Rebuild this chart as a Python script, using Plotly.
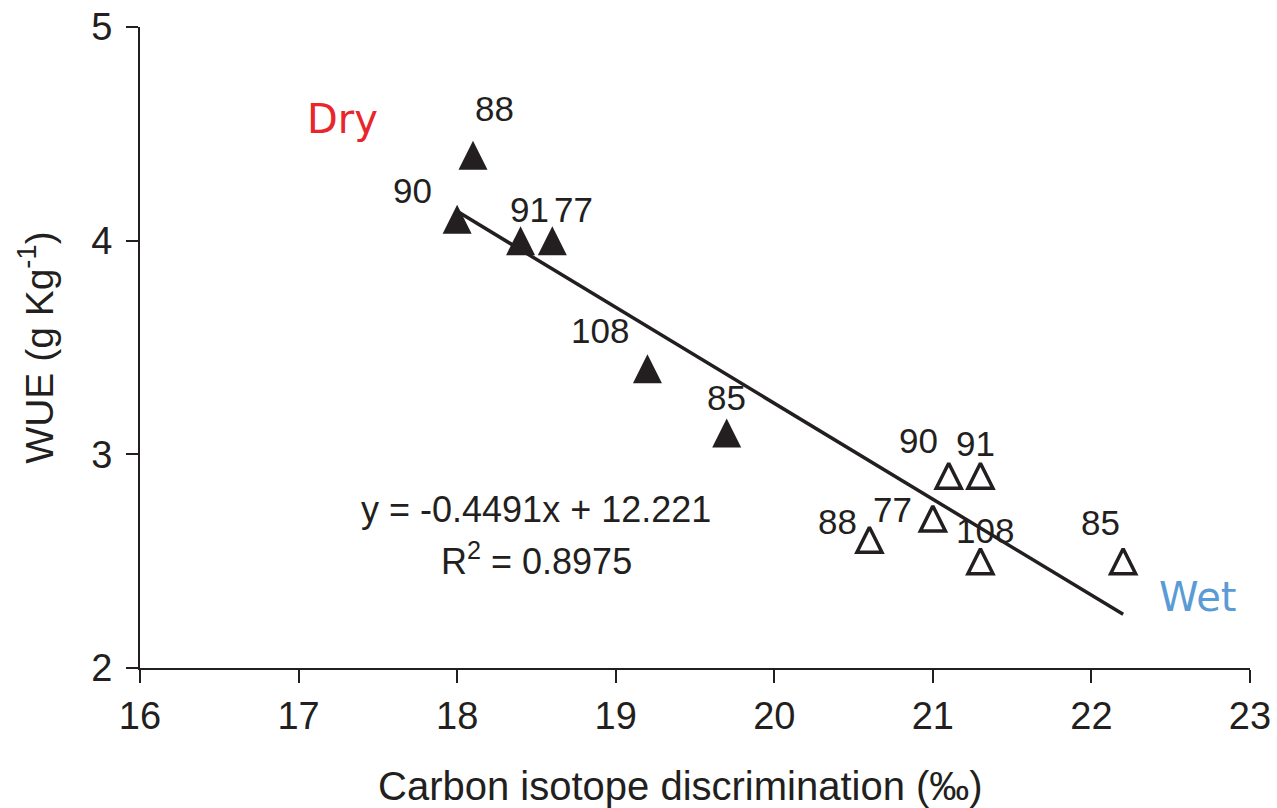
import plotly.graph_objects as go

# ---- data ----
dry_x = [18.1, 18.0, 18.4, 18.6, 19.2, 19.7]
dry_y = [4.4, 4.1, 4.0, 4.0, 3.4, 3.1]
dry_labels = ["88", "90", "91", "77", "108", "85"]

wet_x = [21.1, 21.3, 21.0, 20.6, 21.3, 22.2]
wet_y = [2.9, 2.9, 2.7, 2.6, 2.5, 2.5]
wet_labels = ["90", "91", "77", "88", "108", "85"]

slope = -0.4491
intercept = 12.221
r2 = 0.8975

x_ticks = [16, 17, 18, 19, 20, 21, 22, 23]
y_ticks = [2, 3, 4, 5]

x_title = "Carbon isotope discrimination (‰)"
y_title = "WUE (g Kg<sup>-1</sup>)"

# ---- label offsets (pixels) ----
dry_off = [(21, 47), (-45, 29), (9, 31), (21, 31), (-47, 38), (0, 35)]
wet_off = [(-30, 35), (-5, 32), (-40, 9), (-32, 18), (5, 31), (-23, 39)]

INK = "#231f20"
FONT = "Liberation Sans, Arial, Helvetica, sans-serif"
FONT2 = "DejaVu Sans, Verdana, sans-serif"
MS = 29

fig = go.Figure()

# regression line across the data range
all_x = dry_x + wet_x
x0, x1 = min(all_x), max(all_x)
fig.add_trace(go.Scatter(
    x=[x0, x1], y=[slope * x0 + intercept, slope * x1 + intercept],
    mode="lines", line=dict(color=INK, width=3.5), showlegend=False, hoverinfo="skip"))

fig.add_trace(go.Scatter(
    x=dry_x, y=dry_y, mode="markers", showlegend=False,
    marker=dict(symbol="arrow-down", angle=180, standoff=MS / 2, size=MS,
                color=INK, line=dict(width=0))))

fig.add_trace(go.Scatter(
    x=wet_x, y=wet_y, mode="markers", showlegend=False,
    marker=dict(symbol="arrow-down-open", angle=180, standoff=25 / 2, size=25,
                color=INK, line=dict(width=3.5, color=INK))))

ann = []
for xs, ys, labs, offs in [(dry_x, dry_y, dry_labels, dry_off), (wet_x, wet_y, wet_labels, wet_off)]:
    for x, y, t, (dx, dy) in zip(xs, ys, labs, offs):
        ann.append(dict(x=x, y=y, text=t, showarrow=False, xshift=dx, yshift=dy,
                        font=dict(size=35, color=INK, family=FONT)))

ann.append(dict(x=17.28, y=4.57, text="Dry", showarrow=False,
                font=dict(size=40, color="#e8262b", family=FONT2)))
ann.append(dict(x=22.67, y=2.33, text="Wet", showarrow=False,
                font=dict(size=40, color="#5b9bd5", family=FONT2)))
ann.append(dict(x=18.5, y=2.74,
                text=f"y = {slope}x + {intercept}", showarrow=False,
                font=dict(size=36, color=INK, family=FONT)))
ann.append(dict(x=18.5, y=2.51,
                text=f"R<sup>2</sup> = {r2}", showarrow=False,
                font=dict(size=36, color=INK, family=FONT)))
# x-axis title (slightly left of centre as in the reference)
ann.append(dict(xref="paper", yref="paper", x=0.4865, y=-0.184, xanchor="center",
                yanchor="middle", text=x_title, showarrow=False,
                font=dict(size=40, color=INK, family=FONT)))

fig.update_layout(
    width=1277, height=808,
    margin=dict(l=140, r=27, t=27, b=140),
    paper_bgcolor="white", plot_bgcolor="white",
    font=dict(family=FONT, color=INK, size=38),
    annotations=ann,
    xaxis=dict(range=[16, 23], tickvals=x_ticks, ticks="outside", ticklen=13, tickwidth=2,
               tickcolor=INK, showline=True, linecolor=INK, linewidth=2, showgrid=False,
               zeroline=False, tickfont=dict(size=38, color=INK), automargin=False),
    yaxis=dict(range=[2, 5], tickvals=y_ticks, ticks="outside", ticklen=12, tickwidth=2,
               tickcolor=INK, showline=True, linecolor=INK, linewidth=2, showgrid=False,
               zeroline=False, tickfont=dict(size=38, color=INK), automargin=False,
               ticklabelstandoff=6,
               title=dict(text=y_title, font=dict(size=39, color=INK), standoff=26)),
)

fig.write_html("out.html")
